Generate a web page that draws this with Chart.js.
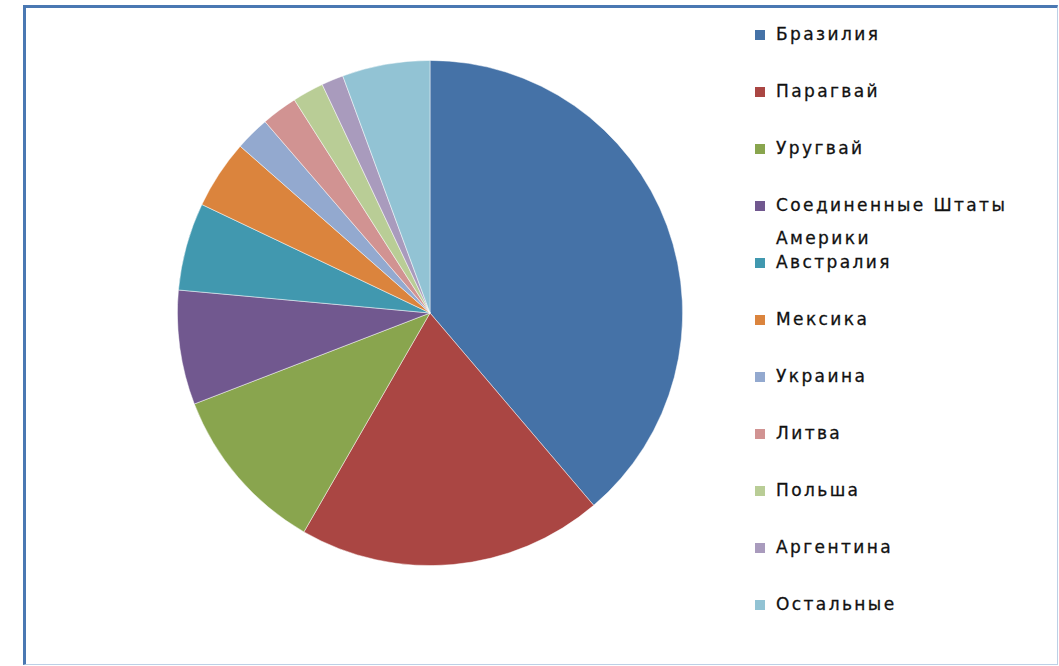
<!DOCTYPE html>
<html>
<head>
<meta charset="utf-8">
<script src="https://cdn.jsdelivr.net/npm/chart.js@4.4.0/dist/chart.umd.min.js"></script>
<style>
  body { margin: 0; background: #fff; width: 1059px; height: 666px; overflow: hidden; position: relative; }
  #frame {
    position: absolute; left: 23px; top: 5px; width: 1031px; height: 656px;
    border-left: 3px solid #4a78b2; border-top: 3px solid #4a78b2;
    border-right: 1px solid #bcd0e6; border-bottom: 1px solid #bcd0e6;
  }
  #pie { position: absolute; left: 177px; top: 60px; width: 506px; height: 506px; }
  #legend { position: absolute; left: 755px; top: 0; font-family: "DejaVu Sans", sans-serif; font-size: 17px; color: #111; }
  .item { position: absolute; left: 0; white-space: nowrap; letter-spacing: 2.4px; line-height: 33px; }
  .box { position: absolute; left: 0; width: 10px; height: 10px; }
  .txt { position: absolute; left: 21px; -webkit-text-stroke: 0.3px #111; }
</style>
</head>
<body>
<div id="frame"></div>
<div id="pie"><canvas id="mycanvas"></canvas></div>
<div id="legend"></div>
<script>
var countries = ['Бразилия', 'Парагвай', 'Уругвай', 'Соединенные Штаты Америки', 'Австралия',
	'Мексика', 'Украина', 'Литва', 'Польша', 'Аргентина', 'Остальные'];
var shares = [38.7, 19.5, 10.8, 7.3, 5.6, 4.4, 2.2, 2.3, 2.0, 1.4, 5.6];
var colors = ['#4572a7', '#aa4643', '#89a54e', '#71588f', '#4198af', '#db843d',
	'#93a9cf', '#d19392', '#b9cd96', '#a99bbd', '#92c3d4'];

var chartdata = {
	labels: countries,
	datasets: [
		{
			data: shares,
			backgroundColor: colors,
			borderColor: 'rgba(255,255,255,0.6)',
			borderWidth: 0.8
		}
	]
};

var ctx = document.getElementById('mycanvas');
var pieChart = new Chart(ctx, {
	type: 'pie',
	data: chartdata,
	options: {
		responsive: true,
		maintainAspectRatio: false,
		animation: false,
		layout: { padding: 0 },
		plugins: {
			legend: { display: false },
			tooltip: { enabled: false }
		}
	}
});

// legend next to the pie, one row every 57px
var legend = document.getElementById('legend');
var items = Chart.overrides.pie.plugins.legend.labels.generateLabels(pieChart);
items.forEach(function(it, i) {
	var row = document.createElement('div');
	row.className = 'item';
	row.style.top = (18 + i * 57) + 'px';
	var box = document.createElement('div');
	box.className = 'box';
	box.style.top = '12px';
	box.style.background = it.fillStyle;
	var txt = document.createElement('div');
	txt.className = 'txt';
	var t = it.text;
	if (t === 'Соединенные Штаты Америки') t = 'Соединенные Штаты<br>Америки';
	txt.innerHTML = t;
	row.appendChild(box);
	row.appendChild(txt);
	legend.appendChild(row);
});
</script>
</body>
</html>
